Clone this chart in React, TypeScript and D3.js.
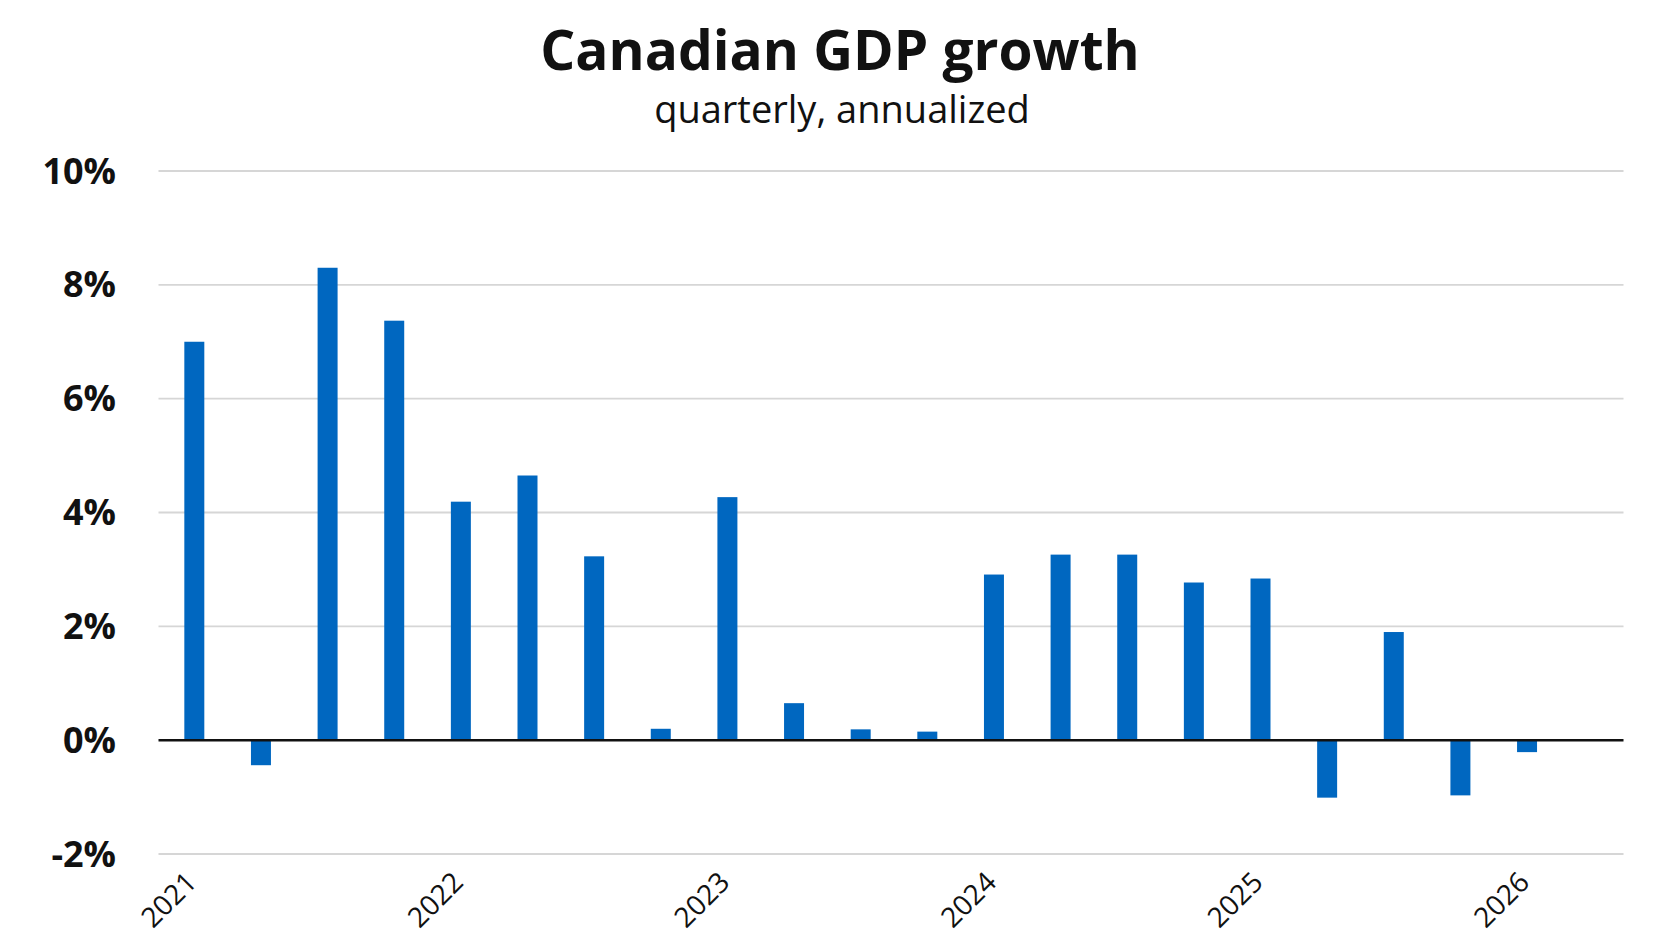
import * as React from 'react';
import * as d3 from 'd3';

// quarterly categories, 2021Q1 .. 2026Q2 (last one is empty)
const quarters: string[] = [
  '2021Q1', '2021Q2', '2021Q3', '2021Q4',
  '2022Q1', '2022Q2', '2022Q3', '2022Q4',
  '2023Q1', '2023Q2', '2023Q3', '2023Q4',
  '2024Q1', '2024Q2', '2024Q3', '2024Q4',
  '2025Q1', '2025Q2', '2025Q3', '2025Q4',
  '2026Q1', '2026Q2',
];

// annualized growth, %
const growth: number[] = [
  7.0, -0.44, 8.3, 7.37,
  4.19, 4.65, 3.23, 0.2,
  4.27, 0.65, 0.19, 0.15,
  2.91, 3.26, 3.26, 2.77,
  2.84, -1.01, 1.9, -0.97,
  -0.21,
];

const yearLabels: string[] = ['2021', '2022', '2023', '2024', '2025', '2026'];
const yTicks: number[] = [-2, 0, 2, 4, 6, 8, 10];

const width = 1672;
const height = 941;
const BAR = '#0067C0';
const FONT = '"Open Sans", Lato, sans-serif';

const App: React.FC = () => {
  const x = d3.scaleBand<string>()
    .domain(quarters)
    .range([161, 1627])
    .paddingInner(0.7)
    .paddingOuter(0.35);
  const y = d3.scaleLinear().domain([-2, 10]).range([854, 171]);

  const gridLeft = 158.5;
  const gridRight = 1623.5;

  return (
    <svg
      width={width}
      height={height}
      style={{ position: 'absolute', left: 0, top: 0, background: '#fff' }}
      fontFamily={FONT}
    >
      <text x={840} y={70} textAnchor="middle" fontSize={55} fontWeight={700} fill="#111">
        Canadian GDP growth
      </text>
      <text x={842} y={123} textAnchor="middle" fontSize={38} fill="#111">
        quarterly, annualized
      </text>

      {/* gridlines + y labels */}
      <g>
        {yTicks.filter(t => t !== 0).map(t => (
          <line key={t} x1={gridLeft} x2={gridRight} y1={y(t)} y2={y(t)} stroke="#d6d6d6" strokeWidth={1.8} />
        ))}
        {yTicks.map(t => (
          <text key={'l' + t} x={116} y={y(t) + 12.5} textAnchor="end" fontSize={36} fontWeight={700} fill="#111">
            {t}%
          </text>
        ))}
      </g>

      {/* bars */}
      <g fill={BAR}>
        {growth.map((v, i) => (
          <rect
            key={quarters[i]}
            x={x(quarters[i])}
            width={x.bandwidth()}
            y={y(Math.max(0, v))}
            height={Math.abs(y(v) - y(0))}
          />
        ))}
      </g>

      {/* zero line */}
      <line x1={gridLeft} x2={gridRight} y1={y(0)} y2={y(0)} stroke="#111" strokeWidth={2.5} />

      {/* year labels at Q1 */}
      <g fontSize={28} fill="#111">
        {yearLabels.map(yr => {
          const cx = (x(yr + 'Q1') ?? 0) + x.bandwidth() / 2 + 4;
          return (
            <text key={yr} textAnchor="end" transform={`translate(${cx},884) rotate(-45)`}>
              {yr}
            </text>
          );
        })}
      </g>
    </svg>
  );
};

export default App;
